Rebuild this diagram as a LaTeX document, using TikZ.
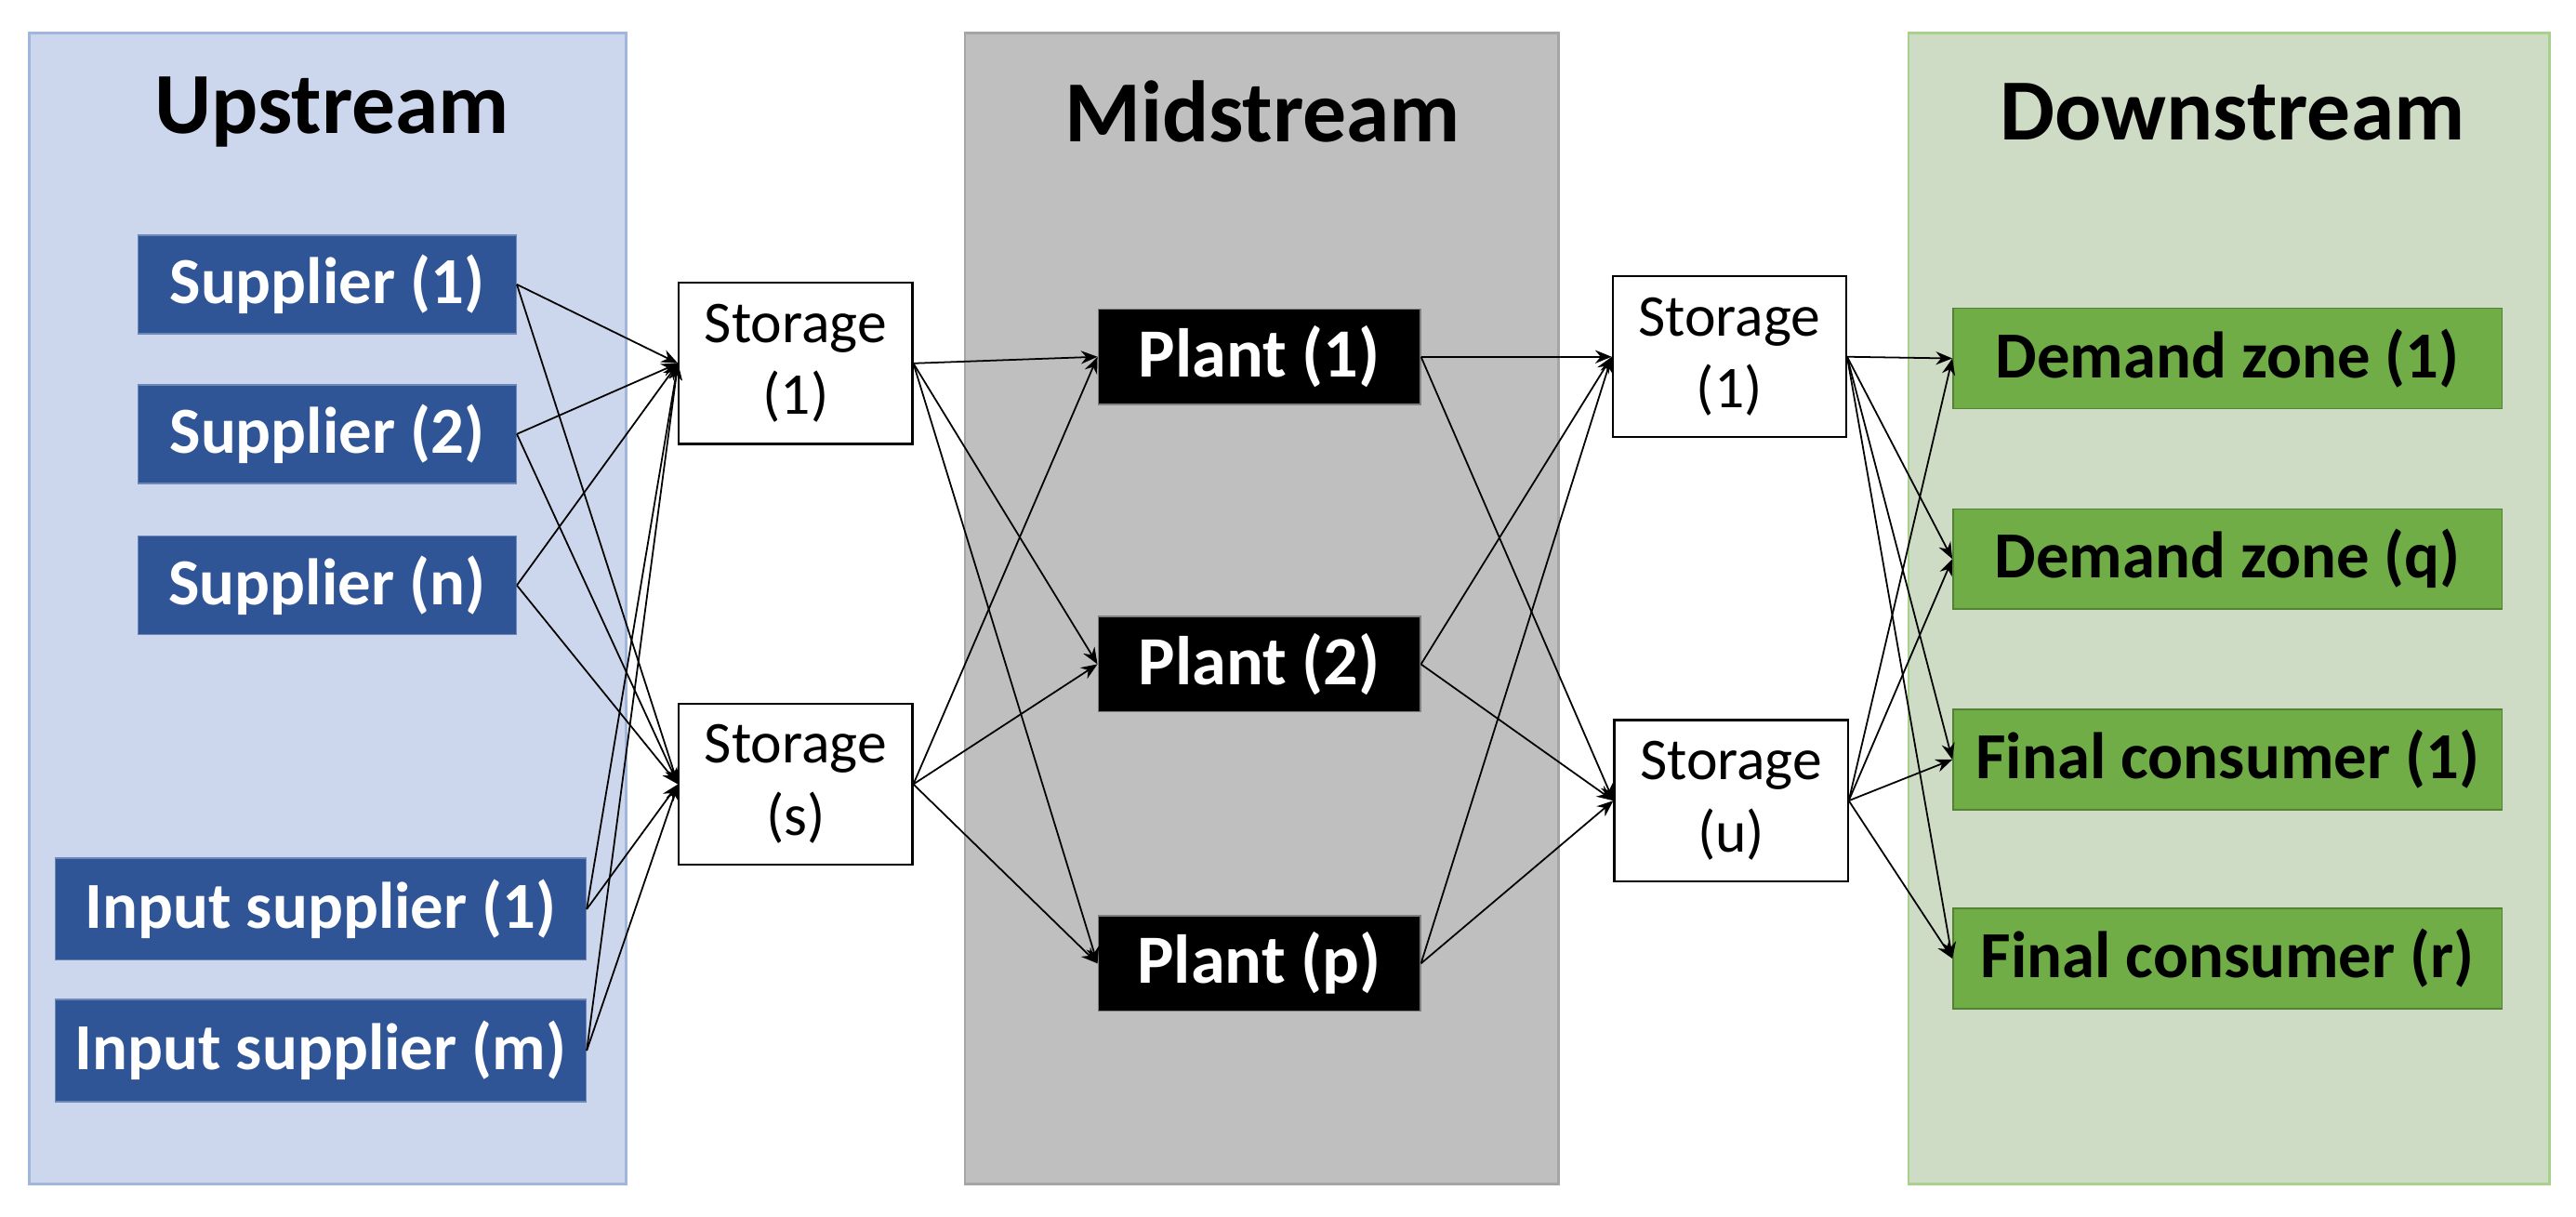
\documentclass[tikz,border=0pt]{standalone}
\usepackage{fontspec}
\setmainfont{Carlito}
\usetikzlibrary{arrows.meta}
\definecolor{upf}{RGB}{204,214,236}
\definecolor{upd}{RGB}{160,182,220}
\definecolor{sup}{RGB}{47,85,151}
\definecolor{midf}{RGB}{191,191,191}
\definecolor{midd}{RGB}{165,165,165}
\definecolor{dnf}{RGB}{207,220,197}
\definecolor{dnd}{RGB}{169,209,142}
\definecolor{dem}{RGB}{112,173,71}
\definecolor{demd}{RGB}{84,130,53}
\begin{document}
\begin{tikzpicture}[x=0.5pt,y=-0.5pt,
  panel/.style={draw=#1,line width=0.8pt},
  title/.style={font=\fontsize{26.5}{30}\selectfont\bfseries},
  supp/.style={fill=sup,draw=sup!70!white,text=white,font=\fontsize{20}{23}\selectfont\bfseries,minimum height=30pt,inner sep=0pt},
  stor/.style={fill=white,draw=black,line width=0.6pt,align=center,font=\fontsize{18}{22}\selectfont,minimum width=71pt,minimum height=49pt,inner sep=0pt},
  plant/.style={fill=black,draw=gray,text=white,font=\fontsize{21}{24}\selectfont\bfseries,minimum width=98pt,minimum height=29pt,inner sep=0pt},
  dem/.style={fill=dem,draw=demd,font=\fontsize{20}{23}\selectfont\bfseries,minimum width=167pt,minimum height=30.5pt,inner sep=0pt},
  arr/.style={-{Stealth[length=5pt,width=4pt]},line width=0.5pt}]
\useasboundingbox (0,0) rectangle (1567,740);
\fill[white] (0,0) rectangle (1567,740);
\draw[panel=upd,fill=upf] (18,20) rectangle (381,720);
\draw[panel=midd,fill=midf] (587,20) rectangle (948,720);
\draw[panel=dnd,fill=dnf] (1161,20) rectangle (1551,720);
\node[title] (t1) at (202,68) {Upstream};
\node[title] (t2) at (768,68) {Midstream};
\node[title] (t3) at (1358,68) {Downstream};

\node[supp,minimum width=115pt] (s1) at (199,173) {Supplier (1)};
\node[supp,minimum width=115pt] (s2) at (199,264) {Supplier (2)};
\node[supp,minimum width=115pt] (s3) at (199,356) {Supplier (n)};
\node[supp,minimum width=161.5pt,minimum height=31pt] (i1) at (195,553) {Input supplier (1)};
\node[supp,minimum width=161.5pt,minimum height=31pt] (i2) at (195,639) {Input supplier (m)};

\node[stor] (a1) at (484,221) {Storage\\(1)};
\node[stor] (a2) at (484,477) {Storage\\(s)};

\node[plant] (p1) at (766,217) {Plant (1)};
\node[plant] (p2) at (766,404) {Plant (2)};
\node[plant] (p3) at (766,586) {Plant (p)};

\node[stor] (b1) at (1052,217) {Storage\\(1)};
\node[stor] (b2) at (1053,487) {Storage\\(u)};

\node[dem] (d1) at (1355,218) {Demand zone (1)};
\node[dem] (d2) at (1355,340) {Demand zone (q)};
\node[dem] (d3) at (1355,462) {Final consumer (1)};
\node[dem] (d4) at (1355,583) {Final consumer (r)};

\foreach \s in {s1,s2,s3,i1,i2}
  \foreach \t in {a1,a2}
    \draw[arr] (\s.east) -- (\t.west);
\foreach \s in {a1,a2}
  \foreach \t in {p1,p2,p3}
    \draw[arr] (\s.east) -- (\t.west);
\foreach \s in {p1,p2,p3}
  \foreach \t in {b1,b2}
    \draw[arr] (\s.east) -- (\t.west);
\foreach \s in {b1,b2}
  \foreach \t in {d1,d2,d3,d4}
    \draw[arr] (\s.east) -- (\t.west);
\end{tikzpicture}
\end{document}
